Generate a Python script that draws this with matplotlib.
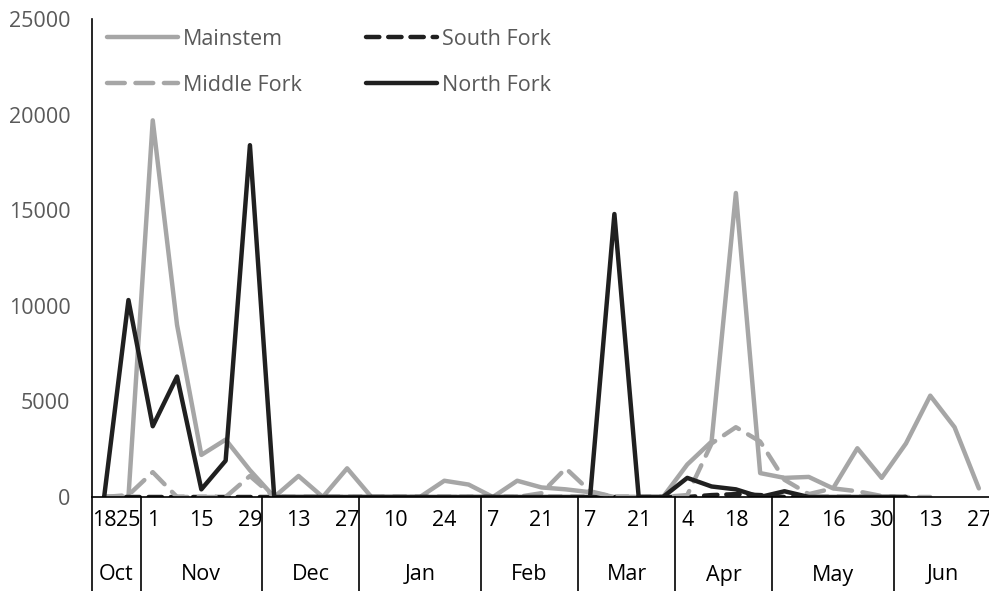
import numpy as np
import matplotlib
matplotlib.use("Agg")
import matplotlib.pyplot as plt
from matplotlib.transforms import blended_transform_factory

plt.rcParams["font.family"] = ["Open Sans", "DejaVu Sans"]

# weekly samples, Oct 18 -> Jun 27
months = ["Oct", "Nov", "Dec", "Jan", "Feb", "Mar", "Apr", "May", "Jun"]
weeks_per_month = [2, 5, 4, 5, 4, 4, 4, 5, 4]
day_labels = ["18", "25", "1", "", "15", "", "29", "", "13", "", "27", "",
              "10", "", "24", "", "7", "", "21", "", "7", "", "21", "",
              "4", "", "18", "", "2", "", "16", "", "30", "", "13", "", "27"]

nan = np.nan
mainstem = [0, 0, 19700, 9000, 2200, 3000, 1400, 0, 1100, 0, 1500, 0,
            0, 0, 850, 650, 0, 850, 500, 400, 250, 0, 0, 0,
            1700, 2900, 15900, 1250, 1000, 1050, 450, 2550, 1000, 2800, 5300, 3650, 450]
south_fork = [0, 0, 0, 0, 0, 0, 0, 0, 0, 0, 0, 0,
              0, 0, 0, 0, 0, 0, 0, 0, 0, 0, 0, 0,
              0, 100, 150, 100, 0, 0, 0, 0, 0, 0, nan, nan, nan]
middle_fork = [0, 100, 1300, 0, 0, 0, 1100, 0, 0, 0, 0, 0,
               0, 0, 0, 0, 0, 0, 200, 1500, 300, 0, 0, 0,
               100, 2800, 3650, 2900, 900, 150, 450, 300, 50, 0, 0, nan, nan]
north_fork = [0, 10300, 3700, 6300, 400, 1900, 18400, 0, 0, 0, 0, 0,
              0, 0, 0, 0, 0, 0, 0, 0, 0, 14800, 0, 0,
              1000, 550, 400, 0, 300, 0, 0, 0, 0, 0, nan, nan, nan]

x = np.arange(len(mainstem))
light = "#A6A6A6"
dark = "#202020"
fs = 15.5

fig = plt.figure(figsize=(9.89, 5.91), dpi=100)
ax = fig.add_axes([92 / 989, 1 - 497 / 591, 899 / 989, 478 / 591])

lw = 3.2
l_main, = ax.plot(x, mainstem, color=light, lw=lw, solid_capstyle="round", solid_joinstyle="round", label="Mainstem")
l_south, = ax.plot(x, south_fork, color=dark, lw=lw, ls=(0, (3.0, 2.0)), dash_capstyle="round", label="South Fork")
l_mid, = ax.plot(x, middle_fork, color=light, lw=lw, ls=(0, (4, 2.4)), dash_capstyle="round", label="Middle Fork")
l_north, = ax.plot(x, north_fork, color=dark, lw=lw, solid_capstyle="round", solid_joinstyle="round", label="North Fork")

ax.set_xlim(-0.5, len(x) - 0.5)
ax.set_ylim(0, 25000)
ax.set_yticks(np.arange(0, 25001, 5000))
ax.tick_params(axis="y", length=0, pad=15.5, labelsize=fs, labelcolor="#595959")
ax.set_xticks([])
for s in ["top", "right", "left"]:
    ax.spines[s].set_visible(False)
ax.spines["bottom"].set_color("black")
ax.spines["bottom"].set_linewidth(1.2)

# left axis line running down through the category rows
tf = blended_transform_factory(ax.transAxes, fig.transFigure)
ax.plot([0, 0], [0, 1 - 19 / 591], transform=tf, color="black", lw=1.2, clip_on=False)

# two-level category axis
tx = blended_transform_factory(ax.transData, fig.transFigure)
for i, lab in enumerate(day_labels):
    if lab:
        ax.text(x[i], 1 - 521 / 591, lab, transform=tx, ha="center", va="center",
                fontsize=fs, color="black")
start = 0
for m, n in zip(months, weeks_per_month):
    ax.text(start + (n - 1) / 2, 1 - 575 / 591, m, transform=tx, ha="center", va="center",
            fontsize=fs, color="black")
    start += n
    if start < len(x):
        ax.plot([start - 0.5, start - 0.5], [0, 1 - 497 / 591], transform=tx,
                color="black", lw=1.2, clip_on=False)

ax.legend([l_main, l_mid, l_south, l_north], ["Mainstem", "Middle Fork", "South Fork", "North Fork"],
          ncol=2, frameon=False, loc="upper left", bbox_to_anchor=(107 / 989, 1 - 29 / 591),
          bbox_transform=fig.transFigure, borderpad=0, borderaxespad=0,
          handlelength=3.3, handletextpad=0.23, columnspacing=3.0, labelspacing=1.14,
          fontsize=fs, labelcolor="#595959")

fig.savefig("out.png", dpi=100)
